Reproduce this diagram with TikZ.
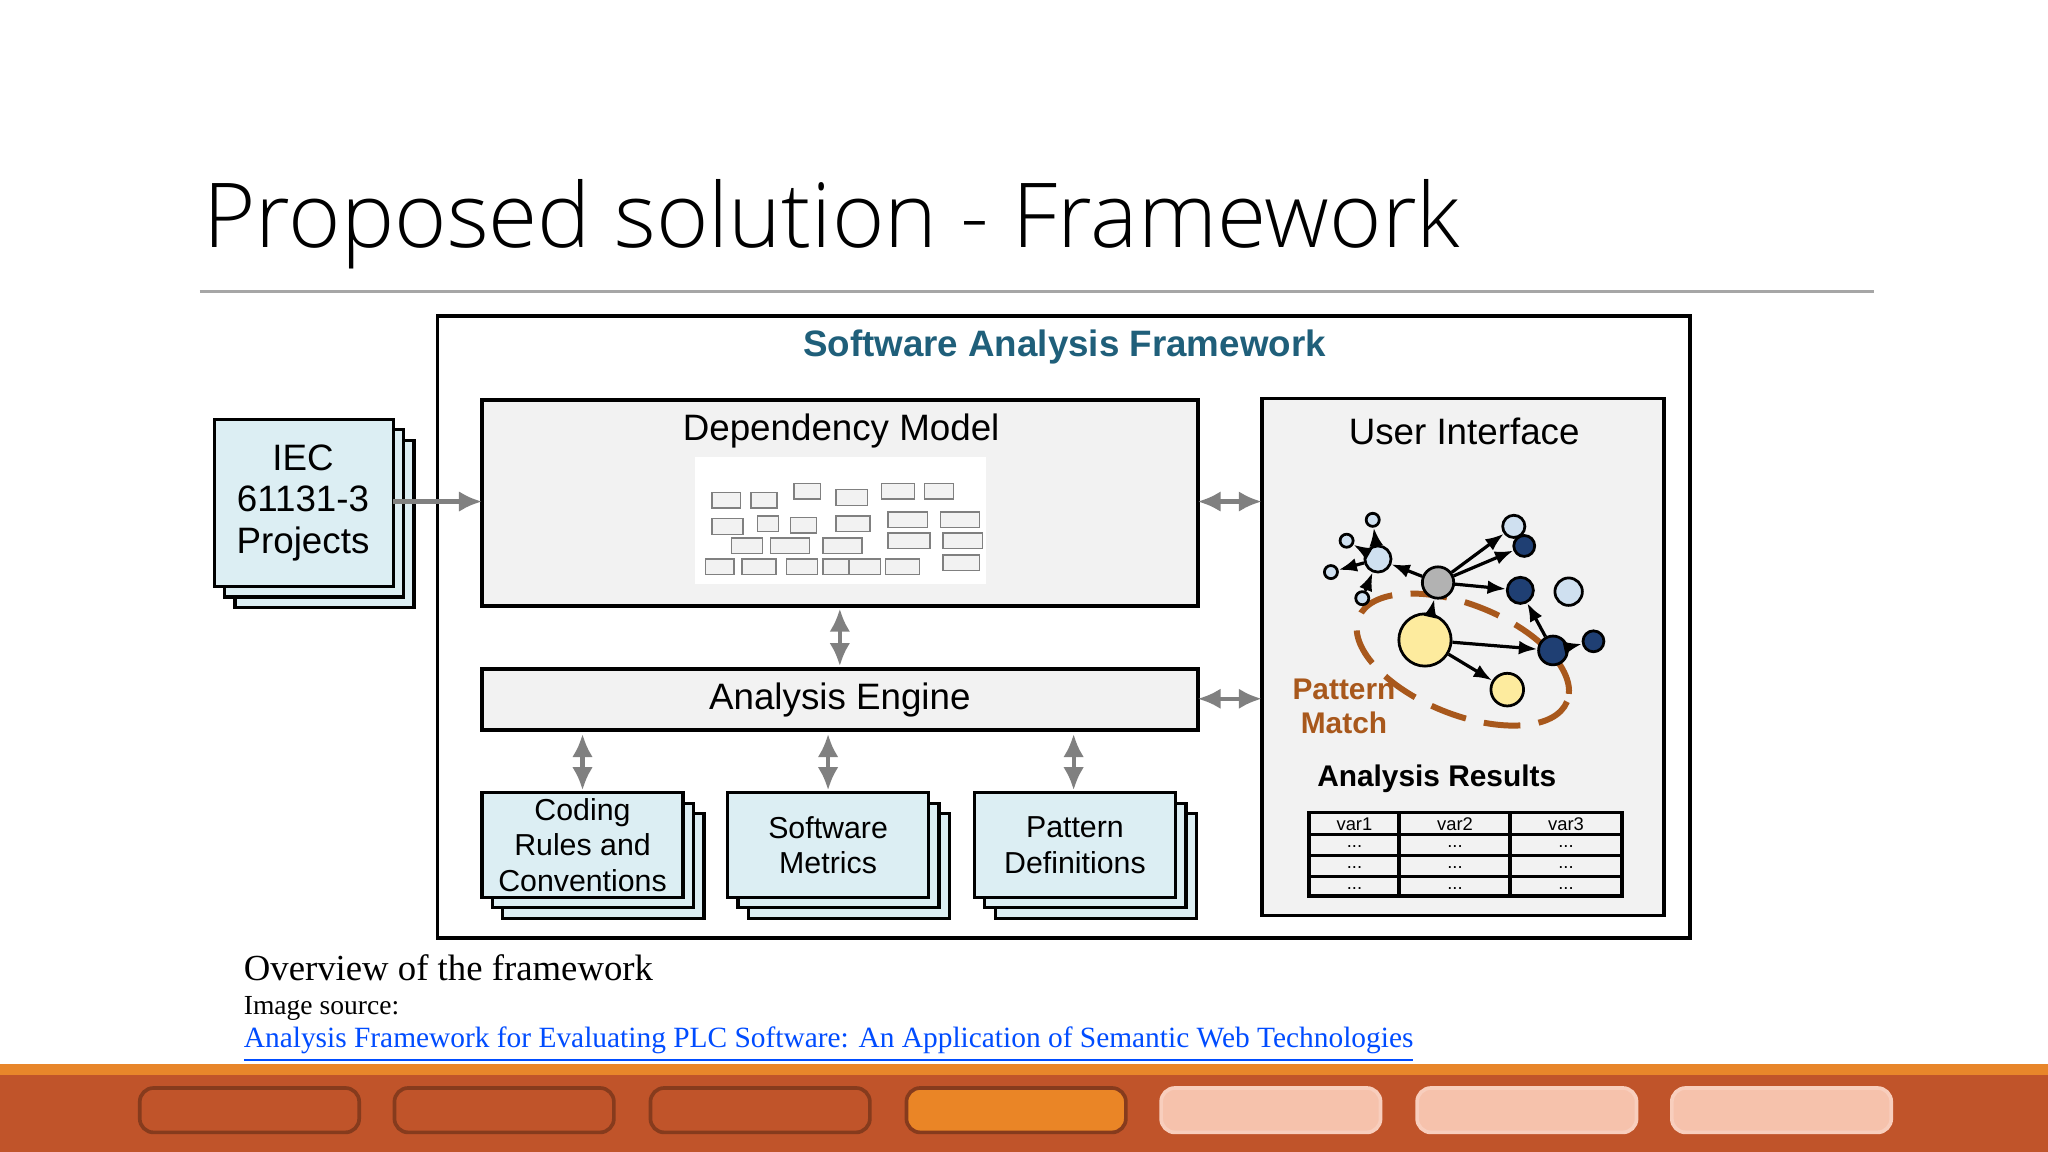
\documentclass[tikz,border=0pt]{standalone}
\usepackage{fontspec}
\setmainfont{Liberation Sans}
\newfontfamily\titlefont{Open Sans Light}
\newfontfamily\capfont{Liberation Serif}
\usetikzlibrary{arrows.meta,positioning}
\definecolor{teal}{HTML}{1F5F7A}
\definecolor{paleblue}{HTML}{DCEEF3}
\definecolor{boxgray}{HTML}{F2F2F2}
\definecolor{rust}{HTML}{C0542A}
\definecolor{barorange}{HTML}{E8862A}
\definecolor{peach}{HTML}{F6C2AC}
\definecolor{navy}{HTML}{1F3F73}
\definecolor{lblue}{HTML}{CFE0F0}
\definecolor{pyellow}{HTML}{FDEB9E}
\definecolor{pbrown}{HTML}{A8581C}
\tikzset{
  block/.style={draw=black, line width=0.8pt, fill=boxgray},
  sheet/.style={draw=black, line width=0.7pt, fill=paleblue},
  dbl/.style={gray, line width=0.9pt, {Latex[length=5pt,width=4.5pt]}-{Latex[length=5pt,width=4.5pt]}},
  vert/.style={circle, draw=black, line width=0.6pt, inner sep=0pt},
  edge/.style={-{Latex[length=4pt]}, line width=0.7pt},
  btn/.style={rounded corners=3pt, line width=0.8pt}
}
\begin{document}
\begin{tikzpicture}[x=0.01cm,y=-0.01cm]
\fill[white] (0,0) rectangle (1568,882);
% title
\node[anchor=west, inner sep=0pt] (title) at (155,172) {\titlefont\fontsize{19.5}{22}\selectfont Proposed solution - Framework};
\draw[gray!70, line width=0.6pt] (153,223) -- (1435,223);
% outer frame
\draw[line width=0.8pt] (335,242) rectangle (1294,718);
\node[text=teal, font=\bfseries\fontsize{8}{9}\selectfont] (fw) at (815,266) {Software Analysis Framework};
% input stack
\foreach \d in {16,8,0} \draw[sheet] (164+\d,321+\d) rectangle (301+\d,449+\d);
\node[align=center, font=\fontsize{8}{9}\selectfont] (iec) at (232,385) {IEC\\61131-3\\Projects};
\coordinate (iecout) at (301,384);
% dependency model
\draw[block] (369,306) rectangle (917,464);
\node[font=\fontsize{8}{9}\selectfont] (dm) at (644,330) {Dependency Model};
\fill[white] (532,350) rectangle (755,447);
\foreach \x/\y/\w in {545/377/22,575/377/20,608/370/20,640/375/24,675/370/25,708/370/22,
  545/397/24,580/395/16,605/396/20,640/395/26,680/392/30,720/392/30,
  560/412/24,590/412/30,630/412/30,680/408/32,722/408/30,
  540/428/22,568/428/26,602/428/24,630/428/20,650/428/24,678/428/26,722/425/28}
  \draw[gray, line width=0.3pt, fill=gray!10] (\x,\y) rectangle (\x+\w,\y+12);
\coordinate (dml) at (917,384);
\coordinate (dmb) at (643,466);
% user interface
\draw[block] (966,305) rectangle (1274,701);
\node[font=\fontsize{8}{9}\selectfont] (ui) at (1121,330) {User Interface};
\coordinate (uil) at (966,384);
\coordinate (uil2) at (966,535);
% analysis engine
\draw[block] (369,512) rectangle (917,559);
\node[font=\fontsize{8}{9}\selectfont] (ae) at (643,536) {Analysis Engine};
\coordinate (aet) at (643,510);
\coordinate (aer) at (917,535);
% bottom stacks
\foreach \x/\txt/\nm in {369/{Coding\\Rules and\\Conventions}/crc, 557/{Software\\Metrics}/sm, 746/{Pattern\\Definitions}/pd}{
  \foreach \d in {16,8,0} \draw[sheet] (\x+\d,607+\d) rectangle (\x+154+\d,687+\d);
  \node[align=center, font=\fontsize{6.6}{7.7}\selectfont] (\nm) at (\x+77,647) {\txt};
}
\foreach \x in {446,634,822} \draw[dbl] (\x,562) -- (\x,605);
% connectors
\draw[gray, line width=0.9pt, -{Latex[length=5pt,width=4.5pt]}] (iecout) -- (369,384);
\draw[dbl] (dml) -- (uil);
\draw[dbl] (aer) -- (uil2);
\draw[dbl] (dmb) -- (aet);
% pattern graph
\draw[pbrown, line width=1.3pt, dash pattern=on 8pt off 4pt, rotate around={-22:(1120,505)}] (1120,505) ellipse (86 and 42);
\node[vert, fill=gray!60, minimum size=0.24cm] (g) at (1101,446) {};
\node[vert, fill=lblue, minimum size=0.2cm] (b1) at (1055,428) {};
\node[vert, fill=lblue, minimum size=0.1cm] (s1) at (1051,398) {};
\node[vert, fill=lblue, minimum size=0.1cm] (s2) at (1031,414) {};
\node[vert, fill=lblue, minimum size=0.1cm] (s3) at (1019,438) {};
\node[vert, fill=lblue, minimum size=0.1cm] (s4) at (1043,458) {};
\node[vert, fill=lblue, minimum size=0.17cm] (b2) at (1159,403) {};
\node[vert, fill=navy, minimum size=0.16cm] (n1) at (1167,418) {};
\node[vert, fill=navy, minimum size=0.2cm] (n2) at (1164,452) {};
\node[vert, fill=lblue, minimum size=0.21cm] (b3) at (1201,453) {};
\node[vert, fill=pyellow, minimum size=0.4cm] (y1) at (1091,490) {};
\node[vert, fill=navy, minimum size=0.22cm] (n3) at (1189,498) {};
\node[vert, fill=navy, minimum size=0.16cm] (n4) at (1220,491) {};
\node[vert, fill=pyellow, minimum size=0.25cm] (y2) at (1154,528) {};
\foreach \a/\b in {g/b1,g/b2,g/n1,g/n2,y1/g,y1/n3,y1/y2,n3/n2,n3/n4,b1/s1,b1/s2,b1/s3,s4/b1}
  \draw[edge] (\a) -- (\b);
\node[text=pbrown, align=center, font=\bfseries\fontsize{6.5}{7.5}\selectfont] (pm) at (1029,541) {Pattern\\Match};
\node[font=\bfseries\fontsize{6.5}{7.5}\selectfont] (ar) at (1100,596) {Analysis Results};
% results table
\draw[line width=0.8pt] (1002,622) rectangle (1242,686);
\draw[line width=0.8pt] (1002,639) -- (1242,639);
\draw[line width=0.5pt] (1002,655) -- (1242,655) (1002,671) -- (1242,671);
\draw[line width=0.8pt] (1071,622) -- (1071,686) (1156,622) -- (1156,686);
\foreach \x/\v in {1037/var1,1114/var2,1199/var3}{
  \node[font=\fontsize{4}{5}\selectfont] at (\x,631) {\v};
  \foreach \y in {648,664,680} \node[font=\fontsize{4}{5}\selectfont] at (\x,\y) {...};
}
% caption
\node[anchor=west, inner sep=0pt, font=\capfont\fontsize{8}{9}\selectfont] (cap) at (186,741) {Overview of the framework};
\node[anchor=west, inner sep=0pt, font=\capfont\fontsize{6}{7}\selectfont] (src) at (186,772) {Image source:};
\node[anchor=west, inner sep=0pt, text=blue!70!cyan, font=\capfont\fontsize{6.4}{7}\selectfont] (lnk) at (186,800) {\underline{Analysis Framework for Evaluating PLC Software: An Application of Semantic Web Technologies}};
% bottom bar
\fill[barorange] (0,815) rectangle (1568,823);
\fill[rust] (0,823) rectangle (1568,882);
\foreach \x in {107,302,498} \draw[btn, draw=rust!70!black, fill=rust] (\x,833) rectangle (\x+168,867);
\draw[btn, draw=rust!70!black, fill=barorange!90!orange] (694,833) rectangle (862,867);
\foreach \x in {889,1085,1280} \draw[btn, draw=peach!80!white, fill=peach] (\x,833) rectangle (\x+168,867);
\end{tikzpicture}
\end{document}
